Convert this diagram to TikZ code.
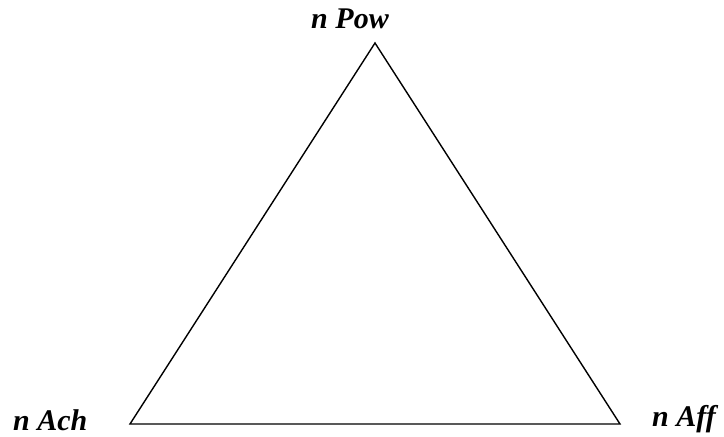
\documentclass[tikz,border=0pt]{standalone}
\usepackage{fontspec}
\setmainfont{Liberation Serif}
\usetikzlibrary{positioning}

\begin{document}
\begin{tikzpicture}[x=1pt,y=-1pt,every node/.style={font=\fontsize{30}{34}\selectfont\bfseries\itshape,inner sep=0pt}]
      \useasboundingbox (0,0) rectangle (724,437);
      % corners
      \coordinate (pow) at (375,43);
      \coordinate (ach) at (130,424);
      \coordinate (aff) at (620,424);
      % triangle
      \draw[line width=1.4pt,line join=miter] (pow) -- (aff) -- (ach) -- cycle;
      % labels
      \node[anchor=base] (powlbl) at (350,28) {n Pow};
      \node[anchor=base west] (achlbl) at (13,430) {n Ach};
      \node[anchor=base west] (afflbl) at (652,426) {n Aff};
    \end{tikzpicture}
\end{document}
